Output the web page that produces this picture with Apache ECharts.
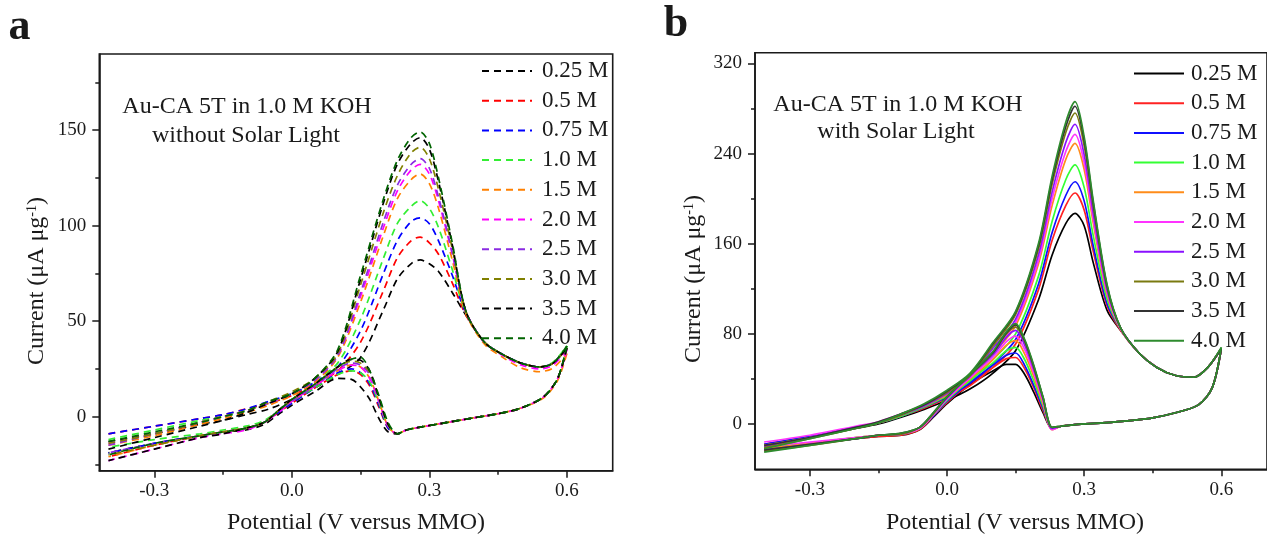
<!DOCTYPE html>
<html><head><meta charset="utf-8">
<script src="https://cdn.jsdelivr.net/npm/echarts@6/dist/echarts.min.js"></script>
<style>html,body{margin:0;padding:0;background:#fff}#c{width:1267px;height:540px}</style>
</head><body><div id="c"></div>
<script>
// ---------- DATA ----------
const concentrations = ['0.25 M','0.5 M','0.75 M','1.0 M','1.5 M','2.0 M','2.5 M','3.0 M','3.5 M','4.0 M'];
const xTicks = [-0.3, 0.0, 0.3, 0.6];
const xMinorTicks = [-0.15, 0.15, 0.45];
const yTicksA = [0, 50, 100, 150];
const yMinorTicksA = [-25, 25, 75, 125, 175];
const yTicksB = [0, 80, 160, 240, 320];
const yMinorTicksB = [40, 120, 200, 280];

// potential (V vs MMO) of anodic (forward) and cathodic (reverse) sweeps
const potentialFwd = [-0.4,-0.3,-0.2,-0.15,-0.1,-0.05,0,0.05,0.1,0.15,0.2,0.23,0.26,0.28,0.3,0.32,0.35,0.38,0.42,0.46,0.5,0.54,0.57,0.6];
const potentialRev = [0.6,0.58,0.55,0.5,0.45,0.4,0.34,0.28,0.25,0.23,0.21,0.19,0.17,0.15,0.13,0.1,0.05,0,-0.03,-0.06,-0.1,-0.15,-0.2,-0.3,-0.4];

// panel a: without solar light, forward sweep currents
const darkFwd025 = [-13,-9,-4,-2,1,4,9,15,22,31,56,72,80,82,80,76,65,53,39,32.5,28,26,28,36];
const darkFwd05  = [-9,-5,-1,1,4,7,11,17,24,39,66,83,92,94,91,85,70,53,39,32.5,28,26,28,36];
const darkFwd075 = [-9,-5,-1,1,4,8,12,18,26,45,75,92,102,104,101,92,74,54,39,32.5,28,26,28,36];
const darkFwd10  = [-12,-7,-2,0,3,7,12,19,28,51,83,101,110,113,109,99,77,54,39,32.5,28,26,28.5,37];
const darkFwd15  = [-15,-10,-4,-1,2,6,11,18,31,60,95,114,124,127,122,109,82,54,38,31,25.5,23.5,25.5,33];
const darkFwd20  = [-14,-9,-3,0,3,7,12,19,32,63,99,118,129,132,127,113,85,55,39,32,27,25,27,35];
const darkFwd25  = [-15,-9,-3,0,3,7,12,19,32,65,102,121,132,135,130,115,86,55,39,32.5,28,26,28,36];
const darkFwd30  = [-14,-9,-3,0,3,8,13,20,33,69,107,126,138,141,135,119,88,55,39,32.5,28,26,28,36];
const darkFwd35  = [-17,-11,-5,-2,2,7,12,20,34,72,112,132,143,146,140,123,90,55,39,32.5,28,26,28,36];
const darkFwd40  = [-13,-8,-3,0,3,8,12,20,35,74,114,134,146,149,143,125,91,55,39,32.5,28,26,28,37];

// panel a: without solar light, reverse sweep currents
const darkRev025 = [36,20,10.5,4.5,1.5,-0.5,-3,-5.5,-7,-9,-8,-1,9,15.5,19.5,20,13,6,1,-4,-7,-8,-10,-14,-19];
const darkRev05  = [36,20,10.5,4.5,1.5,-0.5,-3,-5.5,-7,-9,-6,5,16,22,24,22,15,7,2,-3,-6,-8,-10,-15,-21];
const darkRev075 = [36,20,10.5,4.5,1.5,-0.5,-3,-5.5,-7,-9,-6,6,17,23,25,23,15,7,2,-3,-6,-8,-10,-14,-19];
const darkRev10  = [37,20,10.5,4.5,1.5,-0.5,-3,-5.5,-7,-9,-5,7,18,23,24,22,15,8,3,-2,-5,-7,-9,-12,-16];
const darkRev15  = [33,19,10,4.5,1.5,-0.5,-3,-5.5,-7,-9,-5,8,20,26,27,24,16,8,3,-3,-6,-8,-10,-15,-21];
const darkRev20  = [35,20,10.5,4.5,1.5,-0.5,-3,-5.5,-7,-9,-5,8,20,26,27,24,16,8,2,-3,-7,-9,-11,-17,-23];
const darkRev25  = [36,20,10.5,4.5,1.5,-0.5,-3,-5.5,-7,-9,-4,9,22,27,28,25,16,8,3,-3,-6,-8,-10,-14,-19];
const darkRev30  = [36,20,10.5,4.5,1.5,-0.5,-3,-5.5,-7,-9,-4,10,23,28,29,26,17,9,3,-3,-6,-8,-10,-15,-20];
const darkRev35  = [36,20,10.5,4.5,1.5,-0.5,-3,-5.5,-7,-9,-4,10,24,29.5,30,26,17,9,3,-3,-6,-9,-11,-17,-23];
const darkRev40  = [37,20,10.5,4.5,1.5,-0.5,-3,-5.5,-7,-9,-3,11,24,31,30,26,17,9,3,-3,-6,-8,-10,-14,-20];

// panel b: with solar light, forward sweep currents
const lightFwd025 = [-19,-12,-4,0,6,13,21,31,45,65,110,150,178,187,176,143,101,83,63,50,43,41.5,50,67];
const lightFwd05  = [-18,-11,-3,1,7,14,23,34,50,71,119,163,194,205,190,153,105,83,63,50,43,41.5,50,67];
const lightFwd075 = [-18,-11,-3,1,7,15,24,36,53,75,124,170,203,215,198,158,107,84,63,50,43,41.5,50,67];
const lightFwd10  = [-19,-12,-3,1,7,15,25,38,57,80,131,180,217,230,210,167,111,84,63,50,43,41.5,50,67];
const lightFwd15  = [-19,-12,-3,1,8,16,26,40,62,87,142,194,235,249,226,178,115,84,63,50,43,41.5,50,67];
const lightFwd20  = [-16,-10,-2,2,9,17,27,41,64,90,145,200,242,257,232,182,117,84,63,50,43,41.5,50,67];
const lightFwd25  = [-20,-12,-3,1,8,16,27,42,67,93,150,206,250,266,239,187,119,85,63,50,43,41.5,50,67];
const lightFwd30  = [-21,-13,-4,1,8,17,28,43,69,97,155,213,259,276,247,193,122,85,63,50,43,41.5,50,67];
const lightFwd35  = [-19,-12,-3,2,9,17,29,44,71,99,158,217,264,282,252,196,123,85,63,50,43,41.5,50,67];
const lightFwd40  = [-22,-13,-4,1,9,18,30,45,72,100,160,220,268,286,255,198,124,85,63,50,43,41.5,50,68];

// panel b: with solar light, reverse sweep currents
const lightRev025 = [67,32,17,10,5.5,3,1,-0.5,-2,-4,10,28,44,53,53,47,35,18,6,-5,-10,-11,-13,-18,-22];
const lightRev05  = [67,32,17,10,5.5,3,1,-0.5,-2,-4,12,32,49,59,58,50,36,19,7,-5,-10,-11,-13,-18,-23];
const lightRev075 = [67,32,17,10,5.5,3,1,-0.5,-2,-4,14,34,52,63,61,52,37,20,7,-4,-9,-10,-13,-18,-22];
const lightRev10  = [67,32,17,10,5.5,3,1,-0.5,-2,-4,16,38,57,68,65,54,39,21,8,-4,-9,-10,-12,-17,-21];
const lightRev15  = [67,32,17,10,5.5,3,1,-0.5,-2,-5,18,42,62,74,70,57,40,22,8,-4,-9,-10,-12,-17,-22];
const lightRev20  = [67,32,17,10,5.5,3,1,-0.5,-2,-5,20,45,66,78,73,59,41,22,8,-4,-9,-10,-12,-16,-20];
const lightRev25  = [67,32,17,10,5.5,3,1,-0.5,-2,-4,22,48,70,83,77,61,43,23,9,-3,-9,-10,-13,-18,-23];
const lightRev30  = [67,32,17,10,5.5,3,1,-0.5,-2,-3,23,50,73,86,80,63,43,24,9,-3,-9,-10,-13,-19,-24];
const lightRev35  = [67,32,17,10,5.5,3,1,-0.5,-2,-3,24,51,74,88,81,63,44,24,10,-3,-8,-10,-13,-18,-23];
const lightRev40  = [68,32,17,10,5.5,3,1,-0.5,-2,-3,24,52,75,89,82,64,44,24,10,-3,-8,-10,-13,-19,-25];

const darkFwd = [darkFwd025,darkFwd05,darkFwd075,darkFwd10,darkFwd15,darkFwd20,darkFwd25,darkFwd30,darkFwd35,darkFwd40];
const darkRev = [darkRev025,darkRev05,darkRev075,darkRev10,darkRev15,darkRev20,darkRev25,darkRev30,darkRev35,darkRev40];
const lightFwd = [lightFwd025,lightFwd05,lightFwd075,lightFwd10,lightFwd15,lightFwd20,lightFwd25,lightFwd30,lightFwd35,lightFwd40];
const lightRev = [lightRev025,lightRev05,lightRev075,lightRev10,lightRev15,lightRev20,lightRev25,lightRev30,lightRev35,lightRev40];

// ---------- STYLE ----------
const colorsA = ['#000000','#ff0000','#0000ff','#33ee33','#ff8000','#ff00ff','#8a2be2','#808000','#000000','#006400'];
const colorsB = ['#000000','#ff2222','#1010ff','#33ff33','#ff8c1a','#ff33ff','#8a10ff','#7a7a10','#333333','#2e8b2e'];
const FONT = '"Liberation Serif","Times New Roman",serif';
const INK = '#1a1a1a';

function pairs(xs, ys) { return xs.map((x, i) => [x, ys[i]]); }

const series = [];
concentrations.forEach((c, i) => {
  ['fwd','rev'].forEach(dir => {
    series.push({
      name: 'A:' + c, type: 'line', xAxisIndex: 0, yAxisIndex: 0,
      data: dir === 'fwd' ? pairs(potentialFwd, darkFwd[i]) : pairs(potentialRev, darkRev[i]),
      smooth: 0.3, symbol: 'none', silent: true,
      lineStyle: { color: colorsA[i], width: 1.7, type: [7, 5] },
      itemStyle: { color: colorsA[i] }
    });
  });
});
concentrations.forEach((c, i) => {
  ['fwd','rev'].forEach(dir => {
    series.push({
      name: 'B:' + c, type: 'line', xAxisIndex: 2, yAxisIndex: 2,
      data: dir === 'fwd' ? pairs(potentialFwd, lightFwd[i]) : pairs(potentialRev, lightRev[i]),
      smooth: 0.3, symbol: 'none', silent: true,
      lineStyle: { color: colorsB[i], width: 1.7 },
      itemStyle: { color: colorsB[i] }
    });
  });
});

function mainX(grid) {
  return {
    type: 'value', gridIndex: grid, min: -0.42, max: 0.7, position: 'bottom',
    axisLine: { show: true, onZero: false, lineStyle: { color: INK, width: 1.6 } },
    axisTick: { show: true, inside: false, length: 7, customValues: xTicks, lineStyle: { color: INK, width: 1.5 } },
    axisLabel: { show: true, customValues: xTicks, margin: 11, fontFamily: FONT, fontSize: 19, color: INK,
      formatter: v => v.toFixed(1) },
    splitLine: { show: false }
  };
}
function minorX(grid) {
  return {
    type: 'value', gridIndex: grid, min: -0.42, max: 0.7, position: 'bottom',
    axisLine: { show: false, onZero: false },
    axisTick: { show: true, inside: false, length: 4, customValues: xMinorTicks, lineStyle: { color: INK, width: 1.5 } },
    axisLabel: { show: false }, splitLine: { show: false }
  };
}
function mainY(grid, min, max, ticks) {
  return {
    type: 'value', gridIndex: grid, min: min, max: max, position: 'left',
    axisLine: { show: true, onZero: false, lineStyle: { color: INK, width: 1.6 } },
    axisTick: { show: true, inside: false, length: 7, customValues: ticks, lineStyle: { color: INK, width: 1.5 } },
    axisLabel: { show: true, customValues: ticks, margin: 13, fontFamily: FONT, fontSize: 19, color: INK },
    splitLine: { show: false }
  };
}
function minorY(grid, min, max, ticks) {
  return {
    type: 'value', gridIndex: grid, min: min, max: max, position: 'left',
    axisLine: { show: false, onZero: false },
    axisTick: { show: true, inside: false, length: 4, customValues: ticks, lineStyle: { color: INK, width: 1.5 } },
    axisLabel: { show: false }, splitLine: { show: false }
  };
}

function txt(x, y, text, size, extra) {
  return {
    type: 'text', x: x, y: y, silent: true,
    style: Object.assign({ text: text, font: size + 'px ' + FONT, fill: INK,
      textAlign: 'center', textVerticalAlign: 'middle', align: 'center', verticalAlign: 'middle' }, extra || {})
  };
}
function yName(x, y) {
  return {
    type: 'text', x: x, y: y, rotation: Math.PI / 2, silent: true,
    style: {
      text: 'Current (μA μg{sup|-1})', font: '24px ' + FONT, fill: INK,
      textAlign: 'center', textVerticalAlign: 'middle', align: 'center', verticalAlign: 'middle',
      rich: { sup: { fontSize: 14, fontFamily: FONT, fill: INK, verticalAlign: 'top', lineHeight: 24 } }
    }
  };
}

function legend(left, top, prefix, textPad) {
  return {
    show: true, orient: 'vertical', left: left, top: top, padding: 0,
    itemWidth: 50, itemHeight: 14, itemGap: 6.7, selectedMode: false,
    data: concentrations.map(c => prefix + c),
    formatter: n => n.slice(2),
    itemStyle: { opacity: 0, borderWidth: 0 },
    textStyle: { fontFamily: FONT, fontSize: 23, color: INK, lineHeight: 23, padding: [0, 0, 0, textPad] }
  };
}

const chart = echarts.init(document.getElementById('c'), null, { renderer: 'canvas' });
chart.setOption({
  animation: false,
  backgroundColor: '#ffffff',
  grid: [
    { left: 99.3, top: 54, width: 513.4, height: 416.7, show: true, borderColor: INK, borderWidth: 1.6, backgroundColor: 'transparent', containLabel: false },
    { left: 755, top: 52.7, width: 513.5, height: 416.6, show: true, borderColor: INK, borderWidth: 1.6, backgroundColor: 'transparent', containLabel: false }
  ],
  xAxis: [mainX(0), minorX(0), mainX(1), minorX(1)],
  yAxis: [mainY(0, -28.3, 189.8, yTicksA), minorY(0, -28.3, 189.8, yMinorTicksA),
          mainY(1, -40.2, 329.5, yTicksB), minorY(1, -40.2, 329.5, yMinorTicksB)],
  legend: [legend(481, 59.5, 'A:', 5), legend(1133, 62, 'B:', 2)],
  series: series,
  graphic: [
    txt(19.5, 28, 'a', 'bold 44', {}),
    txt(676, 25, 'b', 'bold 44', {}),
    txt(247, 107, 'Au-CA 5T in 1.0 M KOH', 24),
    txt(246, 135.5, 'without Solar Light', 24),
    txt(898, 105, 'Au-CA 5T in 1.0 M KOH', 24),
    txt(896, 132, 'with Solar Light', 24),
    txt(356, 523, 'Potential (V versus MMO)', 24),
    txt(1015, 523, 'Potential (V versus MMO)', 24),
    yName(37, 281),
    yName(694, 279)
  ]
});
</script>
</body></html>
